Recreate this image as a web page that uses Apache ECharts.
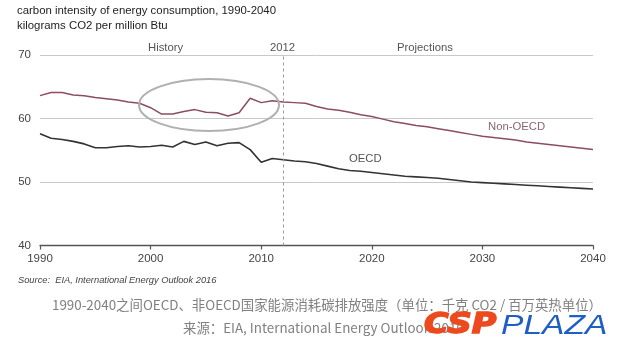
<!DOCTYPE html>
<html>
<head>
<meta charset="utf-8">
<script src="https://cdn.jsdelivr.net/npm/echarts@6/dist/echarts.min.js"></script>
<style>
html,body{margin:0;padding:0;background:#fff;}
#chart{width:620px;height:357px;}
</style>
</head>
<body>
<div id="chart"></div>
<script>
const years = [];
for (let y = 1990; y <= 2040; y++) years.push(y);

const nonOecd = [63.6,64.1,64.1,63.7,63.6,63.3,63.1,62.9,62.6,62.4,
  61.7,60.7,60.7,61.1,61.4,61.0,60.9,60.4,60.9,63.2,
  62.5,62.8,62.6,62.5,62.4,61.9,61.5,61.3,61.0,60.6,
  60.3,59.9,59.5,59.2,58.9,58.7,58.4,58.1,57.8,57.5,
  57.2,57.0,56.8,56.6,56.3,56.1,55.9,55.7,55.5,55.3,55.1];

const oecd = [57.6,56.9,56.7,56.4,56.0,55.4,55.4,55.6,55.7,55.5,
  55.6,55.8,55.5,56.4,55.9,56.3,55.7,56.1,56.2,55.1,
  53.1,53.7,53.5,53.3,53.2,52.9,52.5,52.1,51.8,51.7,
  51.5,51.3,51.1,50.9,50.8,50.7,50.6,50.4,50.2,50.0,
  49.9,49.8,49.7,49.6,49.5,49.4,49.3,49.2,49.1,49.0,48.9];

const xTicks = [1990, 2000, 2010, 2020, 2030, 2040];
const yTicks = [40, 50, 60, 70];
const splitYear = 2012;

const titleLines = ['carbon intensity of energy consumption, 1990-2040', 'kilograms CO2 per million Btu'];
const sourceText = 'Source:  EIA, International Energy Outlook 2016';
const captionCn1 = '1990-2040之间OECD、非OECD国家能源消耗碳排放强度（单位：千克 CO2 / 百万英热单位）';
const captionCn2 = '来源：EIA, International Energy Outlook 2016';

const FONT = '"Liberation Sans", Arial, sans-serif';
const CJK = '"Noto Sans CJK SC", "Noto Sans", sans-serif';
const chart = echarts.init(document.getElementById('chart'), null, {renderer: 'canvas'});

chart.setOption({
  backgroundColor: '#ffffff',
  animation: false,
  grid: {left: 40, right: 27, top: 55, bottom: 111.5, containLabel: false},
  xAxis: {
    type: 'value', min: xTicks[0], max: xTicks[xTicks.length - 1], interval: 10,
    axisLine: {show: true, lineStyle: {color: '#555', width: 1.3}},
    axisTick: {show: true, length: 4, lineStyle: {color: '#555', width: 1.2}},
    axisLabel: {color: '#444', fontFamily: FONT, fontSize: 11.5, margin: 7, formatter: v => String(v)},
    splitLine: {show: false}
  },
  yAxis: {
    type: 'value', min: yTicks[0], max: yTicks[yTicks.length - 1], interval: 10,
    axisLine: {show: false}, axisTick: {show: false},
    axisLabel: {color: '#444', fontFamily: FONT, fontSize: 11.5, margin: 9},
    splitLine: {show: true, lineStyle: {color: '#c9c9c9', width: 1}}
  },
  series: [
    {
      name: 'Non-OECD', type: 'line', showSymbol: false, symbol: 'none',
      data: years.map((y, i) => [y, nonOecd[i]]),
      lineStyle: {color: '#8c4d61', width: 1.5},
      z: 3
    },
    {
      name: 'OECD', type: 'line', showSymbol: false, symbol: 'none',
      data: years.map((y, i) => [y, oecd[i]]),
      lineStyle: {color: '#333333', width: 1.6},
      z: 3,
      markLine: {
        silent: true, symbol: 'none', animation: false,
        label: {show: false},
        lineStyle: {color: '#9a9a9a', type: [3, 3], width: 1},
        data: [{xAxis: splitYear}]
      }
    }
  ],
  graphic: [
    {type: 'text', left: 17, top: 5, style: {text: titleLines[0], fill: '#222', font: '11.4px ' + FONT}},
    {type: 'text', left: 17, top: 20, style: {text: titleLines[1], fill: '#222', font: '11.4px ' + FONT}},
    {type: 'text', left: 148, top: 42, style: {text: 'History', fill: '#555', font: '11.3px ' + FONT}},
    {type: 'text', left: 270, top: 42, style: {text: String(splitYear), fill: '#555', font: '11.3px ' + FONT}},
    {type: 'text', left: 397, top: 42, style: {text: 'Projections', fill: '#555', font: '11.3px ' + FONT}},
    {type: 'ellipse', shape: {cx: 209, cy: 105, rx: 70, ry: 26}, style: {fill: 'none', stroke: '#b0b0b0', lineWidth: 2}, z: 10},
    {type: 'text', left: 488, top: 121, style: {text: 'Non-OECD', fill: '#8a6577', font: '11.3px ' + FONT}},
    {type: 'text', left: 349, top: 153, style: {text: 'OECD', fill: '#555', font: '11.3px ' + FONT}},
    {type: 'text', left: 18, top: 276, style: {text: sourceText, fill: '#444', font: 'italic 9.3px ' + FONT}},
    {type: 'text', left: 52, top: 298, style: {text: captionCn1, fill: '#808080', font: '13.4px ' + CJK}},
    {type: 'text', left: 183, top: 321, style: {text: captionCn2, fill: '#808080', font: '13.4px ' + CJK}},
    {type: 'text', x: 424, y: 312, scaleX: 1.2, z: 20, style: {text: 'CSP', fill: '#ec4a1e', stroke: '#ec4a1e', lineWidth: 1.5, font: 'italic bold 28px "DejaVu Sans", sans-serif'}},
    {type: 'text', x: 501, y: 312, scaleX: 1.2, z: 20, style: {text: 'PLAZA', fill: '#1f5fc4', font: 'italic 28px "Liberation Sans", Arial, sans-serif'}}
  ]
});
</script>
</body>
</html>
